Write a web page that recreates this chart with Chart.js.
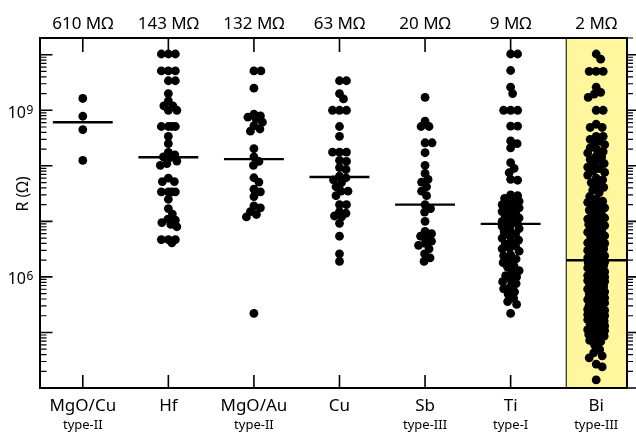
<!DOCTYPE html>
<html><head><meta charset="utf-8">
<script src="https://cdn.jsdelivr.net/npm/chart.js@4.4.1/dist/chart.umd.min.js"></script>
<style>html,body{margin:0;padding:0;background:#fff}canvas{display:block}</style>
</head><body>
<canvas id="c" width="636" height="434"></canvas>
<script>
// ---------- data ----------
const categories = ['MgO/Cu', 'Hf', 'MgO/Au', 'Cu', 'Sb', 'Ti', 'Bi'];
const typeLabels = ['type-II', '', 'type-II', '', 'type-III', 'type-I', 'type-III'];
const medianLabels = ['610 MΩ', '143 MΩ', '132 MΩ', '63 MΩ', '20 MΩ', '9 MΩ', '2 MΩ'];
const medians = [6.1e8, 1.43e8, 1.32e8, 6.3e7, 2.0e7, 9e6, 2e6];
const yTickValues = [1e9, 1e6];
const yTickExponents = ['9', '6'];

const mgoCuValues = [1.63e9, 7.8e8, 4.5e8, 1.25e8];
const hfValues = [1.03e10, 1.03e10, 1.03e10, 5.1e9, 5.1e9, 5.1e9, 3.4e9, 3.4e9, 2.0e9, 1.47e9, 1.2e9, 1.2e9, 1.0e9, 1.0e9,
  5.1e8, 5.1e8, 5.1e8, 5.1e8, 3.4e8, 2.5e8, 1.75e8, 1.58e8, 1.45e8, 1.41e8, 1.22e8, 1.1e8, 1.02e8,
  6.0e7, 5.2e7, 5.2e7, 3.4e7, 3.4e7, 3.4e7, 3.4e7, 2.5e7, 1.7e7, 1.35e7, 1.1e7, 1.05e7, 9.5e6, 8.8e6, 8.0e6,
  4.7e6, 4.7e6, 4.7e6, 4.1e6];
const mgoAuValues = [5.1e9, 5.1e9, 2.5e9, 8.5e8, 7.9e8, 7.5e8, 7.1e8, 6.1e8, 5.3e8, 4.6e8, 4.2e8, 2.03e8, 1.45e8, 1.2e8,
  1.02e8, 6.1e7, 5.1e7, 3.8e7, 3.4e7, 2.8e7, 1.9e7, 1.75e7, 1.5e7, 1.33e7, 1.2e7, 2.2e5];
const cuValues = [3.4e9, 3.4e9, 2.0e9, 1.6e9, 1.0e9, 1.0e9, 1.0e9, 5.1e8, 3.4e8, 1.77e8, 1.77e8, 1.77e8, 1.25e8, 1.2e8, 9.3e7, 8.6e7,
  6.5e7, 6.1e7, 5.6e7, 5.0e7, 4.2e7, 3.5e7, 3.5e7, 2.9e7, 2.0e7, 2.0e7, 1.5e7, 1.4e7, 1.25e7, 1.2e7,
  9.2e6, 5.4e6, 2.6e6, 1.9e6];
const sbValues = [1.7e9, 6.4e8, 5.1e8, 5.1e8, 2.6e8, 2.6e8, 1.72e8, 1.02e8, 7.3e7, 5.7e7, 5.1e7, 4.2e7, 3.5e7, 2.9e7,
  2.0e7, 1.7e7, 1.47e7, 1.0e7, 6.6e6, 6.0e6, 5.4e6, 5.3e6, 4.4e6, 4.0e6, 3.7e6, 3.2e6, 2.6e6, 2.2e6, 1.9e6];
const tiValues = [1.03e10, 1.03e10, 5.2e9, 2.6e9, 2.0e9, 1.0e9, 1.0e9, 1.0e9, 5.2e8, 5.2e8, 2.8e8, 2.5e8, 2.1e8, 1.14e8, 9.0e7, 7.5e7, 5.7e7, 5.5e7,
  3.0e7, 2.9e7, 2.6e7, 2.4e7, 2.3e7, 2.1e7, 2.0e7, 1.8e7, 1.75e7, 1.6e7, 1.5e7, 1.45e7, 1.3e7, 1.25e7, 1.15e7, 1.1e7, 1.05e7, 1.0e7, 9.4e6,
  9.0e6,
  8.5e6, 8.2e6, 7.4e6, 7.0e6, 6.5e6, 5.9e6, 5.7e6, 5.0e6, 4.6e6, 4.4e6, 3.9e6, 3.6e6, 3.3e6, 3.2e6,
  2.9e6, 2.5e6, 2.4e6, 2.1e6, 1.9e6, 1.8e6, 1.55e6, 1.5e6, 1.3e6, 1.2e6, 1.05e6, 1.0e6, 9.0e5,
  8.2e5, 7.6e5, 6.6e5, 6.1e5, 5.4e5, 4.9e5, 4.1e5, 3.6e5, 3.2e5, 2.2e5];
const biValues = [1.03e10, 8.3e9, 5.0e9, 5.0e9, 5.0e9, 2.6e9, 2.1e9, 1.95e9, 1.7e9, 1.0e9, 1.0e9, 5.6e8, 4.9e8, 4.9e8, 3.4e8, 3.4e8, 3.0e8,
  2.8e8, 2.6e8, 2.4e8, 2.1e8, 2.0e8, 1.8e8, 1.7e8, 1.5e8, 1.45e8, 1.3e8, 1.25e8, 1.1e8, 1.05e8, 9.5e7, 8.9e7, 8.0e7, 7.6e7, 6.8e7, 6.0e7,
  5.6e7, 5.0e7, 4.4e7, 4.1e7, 3.6e7, 3.3e7, 2.8e7,
  2.5e7, 2.3e7, 2.2e7, 2.0e7, 1.85e7, 1.75e7, 1.6e7, 1.55e7, 1.4e7, 1.35e7, 1.25e7, 1.15e7, 1.1e7, 1.0e7, 9.6e6, 8.8e6, 8.4e6, 7.7e6,
  7.3e6, 6.7e6, 6.4e6, 5.8e6, 5.5e6, 5.2e6, 4.7e6, 4.5e6, 4.1e6, 4.0e6, 3.6e6, 3.5e6, 3.2e6, 3.0e6, 2.9e6, 2.7e6, 2.6e6, 2.4e6, 2.3e6,
  2.2e6, 2.05e6,
  1.95e6, 1.92e6, 1.85e6, 1.8e6, 1.75e6, 1.7e6, 1.66e6, 1.6e6, 1.52e6, 1.45e6, 1.4e6, 1.35e6, 1.3e6, 1.28e6, 1.24e6, 1.17e6, 1.12e6,
  1.06e6, 1.0e6, 9.6e5, 9.4e5, 9.1e5, 8.6e5, 8.3e5, 7.9e5, 7.5e5, 7.1e5, 6.7e5, 6.4e5, 6.2e5, 6.0e5, 5.8e5, 5.4e5, 5.2e5, 4.9e5, 4.7e5,
  4.6e5, 4.4e5, 4.2e5, 3.9e5, 3.8e5, 3.6e5, 3.4e5, 3.3e5, 3.1e5, 2.9e5, 2.8e5, 2.7e5, 2.6e5, 2.5e5, 2.4e5, 2.3e5, 2.2e5, 2.1e5, 2.0e5,
  1.9e5, 1.8e5, 1.7e5, 1.6e5, 1.55e5, 1.45e5, 1.4e5, 1.32e5, 1.25e5, 1.2e5, 1.12e5, 1.08e5, 1.0e5, 9.6e4, 9.2e4, 8.6e4, 8.0e4,
  7.2e4, 6.8e4, 5.9e4, 4.9e4, 4.3e4, 3.8e4, 3.5e4, 2.7e4, 2.4e4, 1.4e4];

const groups = [mgoCuValues, hfValues, mgoAuValues, cuValues, sbValues, tiValues, biValues];
const highlightIndex = 6;

// ---------- drawing ----------
const FONT = '"Noto Sans", "Open Sans", sans-serif';
const DOT_R = 4.4, SEP = 6.6, MAXW = 8.5;

const decor = {
  id: 'decor',
  beforeDatasetsDraw(chart) {
    const { ctx, chartArea: a, scales: { x } } = chart;
    const x0 = x.getPixelForValue(highlightIndex - 0.35);
    ctx.save();
    ctx.fillStyle = '#fff69e';
    ctx.fillRect(x0, a.top, a.right - x0, a.bottom - a.top);
    ctx.strokeStyle = '#000'; ctx.lineWidth = 1;
    ctx.beginPath(); ctx.moveTo(x0, a.top); ctx.lineTo(x0, a.bottom); ctx.stroke();
    ctx.restore();
  },
  afterDatasetsDraw(chart) {
    const { ctx, chartArea: a, scales: { x, y } } = chart;
    ctx.save();
    ctx.strokeStyle = '#000';
    for (let d = 4; d <= 10; d++) {
      for (let k = 1; k <= 9; k++) {
        const v = k * Math.pow(10, d);
        if (v < y.min || v > y.max) continue;
        const py = y.getPixelForValue(v);
        const major = k === 1;
        ctx.lineWidth = major ? 1.6 : 1.2;
        ctx.beginPath();
        ctx.moveTo(a.left, py); ctx.lineTo(a.left + (major ? 12.5 : 6.5), py);
        ctx.moveTo(a.right, py); ctx.lineTo(a.right + (major ? 12 : 6), py);
        ctx.stroke();
      }
    }
    ctx.lineWidth = 1.6;
    for (let i = 0; i < categories.length; i++) {
      if (i === highlightIndex) continue;
      const px = x.getPixelForValue(i);
      ctx.beginPath();
      ctx.moveTo(px, a.top); ctx.lineTo(px, a.top + 14);
      ctx.moveTo(px, a.bottom); ctx.lineTo(px, a.bottom - 13);
      ctx.stroke();
    }
    ctx.lineWidth = 2;
    ctx.strokeRect(a.left, a.top, a.right - a.left, a.bottom - a.top);

    ctx.fillStyle = '#000';
    ctx.textAlign = 'center';
    ctx.textBaseline = 'alphabetic';
    for (let i = 0; i < categories.length; i++) {
      const px = x.getPixelForValue(i);
      ctx.font = '17px ' + FONT;
      ctx.fillText(medianLabels[i], px, 29);
      ctx.fillText(categories[i], px, 411);
      if (typeLabels[i]) {
        ctx.font = '13px ' + FONT;
        ctx.fillText(typeLabels[i], px, 429);
      }
    }
    yTickValues.forEach((v, i) => {
      const py = y.getPixelForValue(v);
      ctx.font = '16px ' + FONT;
      ctx.textAlign = 'right';
      ctx.fillText('10', 26, py + 7.5);
      ctx.font = '12px ' + FONT;
      ctx.textAlign = 'left';
      ctx.fillText(yTickExponents[i], 26.5, py + 3.5);
    });
    ctx.translate(23.5, 194);
    ctx.rotate(-Math.PI / 2);
    ctx.font = '16px ' + FONT;
    ctx.textAlign = 'center';
    ctx.textBaseline = 'middle';
    ctx.fillText('R (Ω)', 0, 0);
    ctx.restore();
  }
};

function swarm(values, ci, xs, ys) {
  const cx = xs.getPixelForValue(ci);
  const sorted = values.slice().sort((p, q) => q - p);
  const placed = [];
  const out = [];
  for (const v of sorted) {
    const py = ys.getPixelForValue(v);
    let free = null, best = 0, bestScore = -1;
    outer:
    for (let dx = 0; dx <= MAXW; dx += 0.5) {
      for (const s of (dx === 0 ? [1] : [1, -1])) {
        const off = s * dx;
        let m = Infinity;
        for (const p of placed) {
          if (Math.abs(p.y - py) >= SEP) continue;
          const dd = Math.hypot(p.x - (cx + off), p.y - py);
          if (dd < m) m = dd;
        }
        if (m >= SEP) { free = off; break outer; }
        if (m > bestScore) { bestScore = m; best = off; }
      }
    }
    const off = free !== null ? free : best;
    placed.push({ x: cx + off, y: py });
    out.push({ x: xs.getValueForPixel(cx + off), y: v });
  }
  return out;
}

const medianData = [];
medians.forEach((m, i) => {
  medianData.push({ x: i - 0.35, y: m }, { x: i + 0.35, y: m }, { x: i + 0.5, y: null });
});

const datasets = groups.map((vals, i) => ({
  type: 'scatter',
  data: vals.map(v => ({ x: i, y: v })),
  pointRadius: DOT_R, pointHoverRadius: DOT_R,
  pointBackgroundColor: '#000', pointBorderWidth: 0, borderWidth: 0
}));
datasets.push({
  type: 'scatter', data: medianData, showLine: true, spanGaps: false,
  pointRadius: 0, borderColor: '#000', borderWidth: 2.4
});

const chart = new Chart(document.getElementById('c'), {
  type: 'scatter',
  data: { datasets },
  options: {
    responsive: false, animation: false, devicePixelRatio: 1, events: [],
    layout: { padding: { left: 40, top: 38, right: 9, bottom: 46 } },
    plugins: { legend: { display: false }, tooltip: { enabled: false } },
    scales: {
      x: { type: 'linear', min: -0.5, max: 6.36, display: false },
      y: { type: 'logarithmic', min: 1e4, max: 2e10, display: false }
    }
  },
  plugins: [decor]
});

groups.forEach((vals, ci) => {
  chart.data.datasets[ci].data = swarm(vals, ci, chart.scales.x, chart.scales.y);
});
chart.update('none');
</script>
</body></html>
